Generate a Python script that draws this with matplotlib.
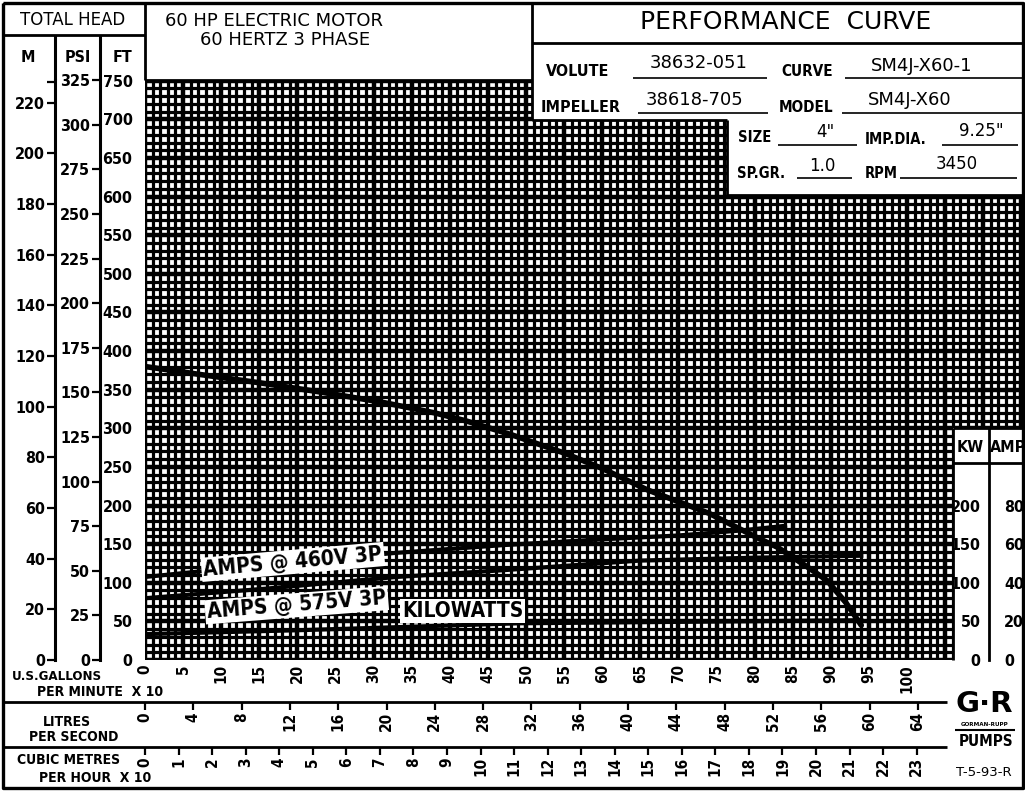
import numpy as np
import matplotlib.pyplot as plt
from matplotlib.patches import Rectangle

W, H = 1025, 791

# head curve: flow in US gpm x 10, head in feet
head_q = [0, 7, 15, 23, 31, 38, 42, 48, 55, 60, 66, 74, 80, 83, 87, 89.5, 92, 94]
head_ft = [380, 370, 359, 347, 334, 320, 310, 292, 268, 248, 220, 190, 160, 146, 120, 103, 74, 45]

# amps @ 460V 3P
a460_q = [0, 10, 20, 33, 47, 60, 70, 78, 84]
a460 = [43, 47, 51, 55.5, 59.5, 62.5, 64.5, 67, 69.5]

# amps @ 575V 3P
a575_q = [0, 16, 33, 47, 65, 80, 94]
a575 = [32, 37, 43, 46.5, 51.5, 53, 54]

# kilowatts
kw_q = [0, 20, 33, 49, 66, 94]
kw = [33.5, 38.5, 42.5, 47.5, 49, 51.5]

gpm_ticks = list(range(0, 101, 5))
lps_ticks = list(range(0, 65, 4))
m3h_ticks = list(range(0, 24))
ft_ticks = list(range(0, 751, 50))
psi_ticks = list(range(0, 326, 25))
m_ticks = list(range(0, 221, 20))
kw_ticks = [0, 50, 100, 150, 200]
amp_ticks = [0, 20, 40, 60, 80]

FT_TOP = 751
PX_UNIT = 7.62          # pixels per (gpm x 10)
X0, X1, Y0, Y1 = 145, 1023, 80, 660
XMAX = (X1 - X0) / PX_UNIT

LPS = 0.6309            # L/s per (gpm x 10)
M3H = 0.22712           # (m3/h x 10) per (gpm x 10)

BOLD = dict(fontweight='bold', fontstretch='condensed')


def rect(x0, y0, x1, y1):
    return [x0 / W, 1 - y1 / H, (x1 - x0) / W, (y1 - y0) / H]


fig = plt.figure(figsize=(W / 100, H / 100), dpi=100)

# main grid
ax = fig.add_axes(rect(X0, Y0, X1, Y1))
ax.set_xlim(0, XMAX)
ax.set_ylim(0, FT_TOP)
for s in ax.spines.values():
    s.set_visible(False)
xs = np.arange(0, int(XMAX) + 1)
ax.vlines(xs, 0, 750, color='black', lw=np.where(xs % 5 == 0, 3.2, 2.3))
ys = np.arange(0, 751, 10)
ax.hlines(ys, 0, XMAX, color='black', lw=np.where(ys % 50 == 0, 3.2, 2.3))

ax.set_xticks(gpm_ticks)
ax.set_xticklabels([str(v) for v in gpm_ticks], rotation=90, fontsize=11, **BOLD)
ax.tick_params(axis='x', length=0, pad=3)
ax.set_yticks(ft_ticks)
ax.set_yticklabels([str(v) for v in ft_ticks], fontsize=11.5, **BOLD)
ax.tick_params(axis='y', length=0, pad=9)

ax.plot(head_q, head_ft, color='black', lw=4, solid_capstyle='round', zorder=5)

ax_a = ax.twinx()
ax_a.set_ylim(0, FT_TOP / 2.5)
ax_a.axis('off')
ax_a.plot(a460_q, a460, color='black', lw=3)
ax_a.plot(a575_q, a575, color='black', lw=3)

ax_k = ax.twinx()
ax_k.set_ylim(0, FT_TOP)
ax_k.axis('off')
ax_k.plot(kw_q, kw, color='black', lw=3)

lab = dict(fontsize=15, ha='center', va='center', rotation_mode='anchor',
           transform=ax.transData, zorder=10,
           bbox=dict(facecolor='white', edgecolor='none', pad=1.5), **BOLD)
ax_k.text(19.4, 127, 'AMPS @ 460V 3P', rotation=5, **lab)
ax_k.text(19.9, 71, 'AMPS @ 575V 3P', rotation=4.5, **lab)
ax_k.text(41.7, 63, 'KILOWATTS', rotation=0, **lab)

# left head columns
for (xa, xb, top, ticks, extra) in [(55, 100, FT_TOP / 3.281, m_ticks, [228]),
                                    (100, 145, FT_TOP / 2.31, psi_ticks, [])]:
    a = fig.add_axes(rect(xa, Y0, xb, Y1))
    a.set_ylim(0, top)
    a.patch.set_visible(False)
    for k, s in a.spines.items():
        s.set_visible(k == 'left')
    a.spines['left'].set_linewidth(2.2)
    a.set_xticks([])
    a.set_yticks(ticks + extra)
    a.set_yticklabels([str(v) for v in ticks] + [''] * len(extra), fontsize=11.5, **BOLD)
    a.tick_params(axis='y', direction='out', length=6, width=1.6, pad=1)

# overlay for boxes and text
ov = fig.add_axes([0, 0, 1, 1])
ov.set_xlim(0, W)
ov.set_ylim(H, 0)
ov.axis('off')

for (x0, y0, x1, y1) in [(532, 3, 1023, 120), (727, 120, 1023, 195), (953, 428, 1023, 660)]:
    ov.add_patch(Rectangle((x0, y0), x1 - x0, y1 - y0, facecolor='white', edgecolor='none', zorder=1))


def line(xx, yy, lw=2.0):
    ov.plot(xx, yy, color='black', lw=lw, zorder=2, solid_capstyle='butt')


line([3, 1023, 1023, 3, 3], [3, 3, 788, 788, 3], lw=2.4)
line([3, 145], [35, 35])
line([145, 145], [3, 80])
line([55, 55], [35, 80], lw=2.2)
line([100, 100], [35, 80], lw=2.2)
line([145, 532], [80, 80])
line([532, 532], [3, 120])
line([532, 1023], [43, 43])
line([532, 727], [120, 120])
line([727, 727], [120, 195])
line([727, 1023], [195, 195])
line([953, 1023], [428, 428])
line([953, 953], [428, 660])
line([953, 1023], [463, 463])
line([989, 989], [428, 463])
line([3, 947], [702, 702])
line([3, 947], [747, 747])

for (xa, xb, y) in [(633, 767, 78), (845, 1022, 78), (638, 768, 113), (842, 1022, 113),
                    (778, 857, 145), (942, 1018, 145), (797, 852, 178), (900, 1017, 178)]:
    line([xa, xb], [y, y], lw=1.2)


def txt(x, y, s, size, bold=False, **kw):
    extra = BOLD if bold else {}
    ov.text(x, y, s, fontsize=size, ha=kw.pop('ha', 'center'), va='center', zorder=3, **extra, **kw)


txt(73, 20, 'TOTAL HEAD', 12)
txt(28, 57, 'M', 11.5, True)
txt(78, 57, 'PSI', 11.5, True)
txt(123, 58, 'FT', 11.5, True)
txt(274, 21, '60 HP ELECTRIC MOTOR', 13)
txt(285, 40, '60 HERTZ 3 PHASE', 13)
txt(786, 22, 'PERFORMANCE  CURVE', 18)

txt(578, 72, 'VOLUTE', 11.5, True)
txt(699, 63, '38632-051', 13)
txt(807, 72, 'CURVE', 11, True)
txt(922, 66, 'SM4J-X60-1', 13)
txt(581, 107, 'IMPELLER', 11.5, True)
txt(695, 100, '38618-705', 13)
txt(806, 108, 'MODEL', 11, True)
txt(910, 100, 'SM4J-X60', 13)
txt(755, 138, 'SIZE', 10.5, True)
txt(825, 132, '4"', 12)
txt(896, 140, 'IMP.DIA.', 10.5, True)
txt(981, 131, '9.25"', 12)
txt(761, 173, 'SP.GR.', 10.5, True)
txt(822, 166, '1.0', 12)
txt(881, 173, 'RPM', 10.5, True)
txt(957, 164, '3450', 12)

txt(970, 447, 'KW', 11.5, True)
txt(1008, 447, 'AMP', 11.5, True)

txt(57, 677, 'U.S.GALLONS', 9.5, True)
txt(100, 692, 'PER MINUTE  X 10', 10, True)
txt(67, 722, 'LITRES', 10, True)
txt(74, 737, 'PER SECOND', 10, True)
txt(69, 760, 'CUBIC METRES', 10, True)
txt(95, 778, 'PER HOUR  X 10', 10, True)

ov.text(984, 704, 'G·R', fontsize=21, fontweight='heavy', ha='center', va='center', zorder=3)
txt(985, 725, 'GORMAN-RUPP', 4.5, True)
line([955, 1015], [730, 730], lw=1.5)
txt(986, 741, 'PUMPS', 11, True)
txt(984, 773, 'T-5-93-R', 9.5)

# flow rows: litres per second, cubic metres per hour x 10
for (yt, ticks, factor) in [(702, lps_ticks, LPS), (747, m3h_ticks, M3H)]:
    r = fig.add_axes(rect(X0, yt, X1, yt + 6))
    r.set_xlim(0, XMAX * factor)
    r.patch.set_visible(False)
    for s in r.spines.values():
        s.set_visible(False)
    r.set_yticks([])
    r.set_xticks(ticks)
    r.set_xticklabels([str(v) for v in ticks], rotation=90, fontsize=11, **BOLD)
    r.tick_params(axis='x', top=True, bottom=False, labelbottom=True, direction='in',
                  length=6, width=1.6, pad=3)

# KW / AMP scale
kax = fig.add_axes(rect(989, Y0, 990, Y1))
kax.set_ylim(0, FT_TOP)
kax.patch.set_visible(False)
for k, s in kax.spines.items():
    s.set_visible(k == 'left')
kax.spines['left'].set_linewidth(2.0)
kax.spines['left'].set_bounds(0, 255)
kax.set_xticks([])
kax.set_yticks(kw_ticks)
kax.set_yticklabels([str(v) for v in kw_ticks], fontsize=11.5, **BOLD)
kax.tick_params(axis='y', length=0, pad=6)
aax = kax.twinx()
aax.set_ylim(0, FT_TOP / 2.5)
for s in aax.spines.values():
    s.set_visible(False)
aax.set_yticks(amp_ticks)
aax.set_yticklabels([str(v) for v in amp_ticks], fontsize=11.5, **BOLD)
aax.tick_params(axis='y', length=0, pad=10)

fig.savefig('out.png', dpi=100)
